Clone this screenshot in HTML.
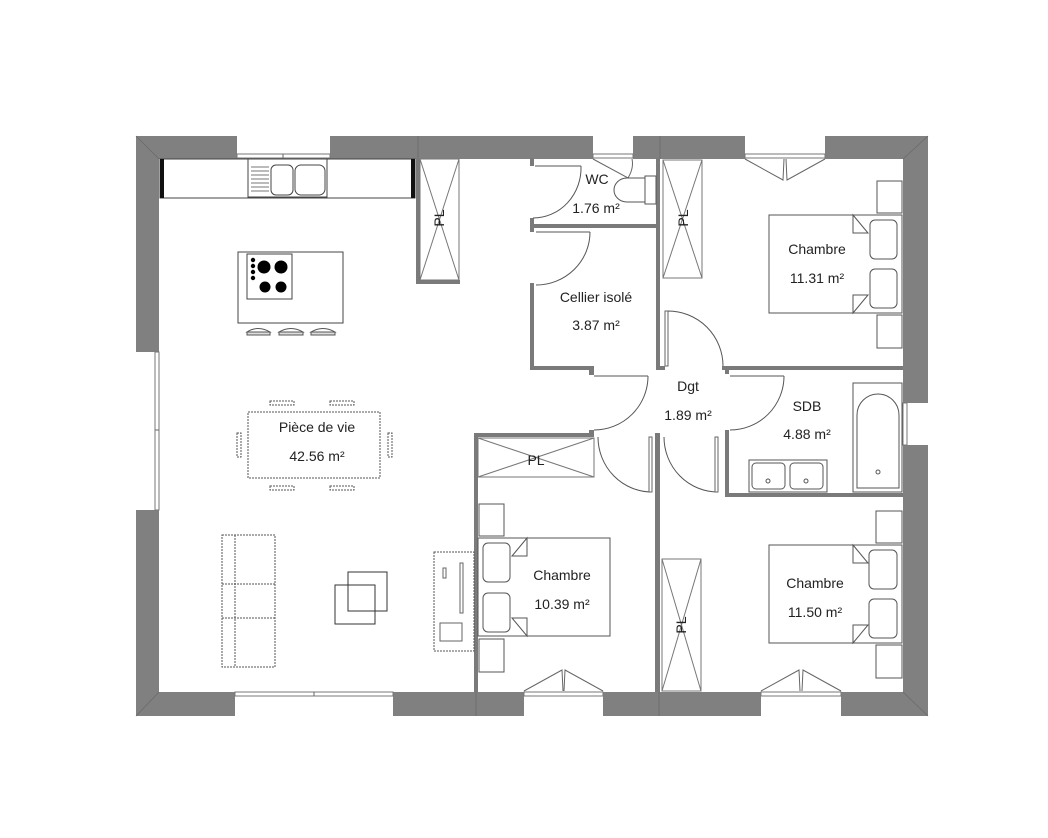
<!DOCTYPE html>
<html><head><meta charset="utf-8"><style>
html,body{margin:0;padding:0;background:#fff;}
svg{display:block;}
text{font-family:"Liberation Sans",sans-serif;font-size:14px;fill:#222;}
</style></head><body>
<svg width="1048" height="838" viewBox="0 0 1048 838" xmlns="http://www.w3.org/2000/svg">
<!-- exterior walls -->
<g fill="#808080">
<rect x="136" y="136" width="101" height="23"/>
<rect x="330" y="136" width="263" height="23"/>
<rect x="633" y="136" width="112" height="23"/>
<rect x="825" y="136" width="103" height="23"/>
<rect x="136" y="136" width="23" height="216"/>
<rect x="136" y="510" width="23" height="206"/>
<rect x="136" y="692" width="99" height="24"/>
<rect x="393" y="692" width="131" height="24"/>
<rect x="603" y="692" width="158" height="24"/>
<rect x="841" y="692" width="87" height="24"/>
<rect x="903" y="136" width="25" height="267"/>
<rect x="903" y="445" width="25" height="271"/>
</g>
<g stroke="#6a6a6a" stroke-width="0.8" fill="none">
<line x1="136" y1="136" x2="159" y2="159"/><line x1="928" y1="136" x2="903" y2="159"/>
<line x1="136" y1="716" x2="159" y2="692"/><line x1="928" y1="716" x2="903" y2="692"/>
<line x1="418" y1="136" x2="418" y2="159"/><line x1="660" y1="136" x2="660" y2="159"/>
<line x1="476" y1="692" x2="476" y2="716"/><line x1="659" y1="692" x2="659" y2="716"/>
</g>
<!-- windows -->
<g fill="#fff" stroke="#777" stroke-width="1">
<rect x="237" y="154" width="93" height="4"/>
<rect x="593" y="154" width="40" height="4"/>
<rect x="745" y="154" width="80" height="4"/>
<rect x="155" y="352" width="4" height="158"/>
<rect x="235" y="692" width="158" height="4"/>
<rect x="524" y="692" width="79" height="4"/>
<rect x="761" y="692" width="80" height="4"/>
<rect x="903" y="403" width="4" height="42"/>
</g>
<g stroke="#666" stroke-width="1" fill="none">
<line x1="283" y1="154" x2="283" y2="158"/><line x1="155" y1="430" x2="159" y2="430"/>
<line x1="314" y1="692" x2="314" y2="696"/>
<path d="M745 159 L783 180 L784 159 M825 159 L787 180 L786 159"/>
<path d="M524 691 L562 670 L563 691 M603 691 L565 670 L564 691"/>
<path d="M761 691 L799 670 L800 691 M841 691 L803 670 L802 691"/>
<path d="M593 159 L628 178 Q634 168 632 159"/>
<path d="M903 405 L885 440 L903 442"/>
</g>
<!-- interior walls -->
<g fill="#7a7a7a">
<rect x="416" y="158" width="4" height="126"/>
<rect x="416" y="280" width="44" height="4"/>
<rect x="530" y="158" width="4" height="8"/>
<rect x="530" y="218" width="4" height="14"/>
<rect x="530" y="224" width="130" height="4"/>
<rect x="530" y="283" width="4" height="87"/>
<rect x="530" y="366" width="62" height="4"/>
<rect x="656" y="158" width="4" height="212"/>
<rect x="656" y="366" width="9" height="4"/>
<rect x="722" y="366" width="181" height="4"/>
<rect x="725" y="366" width="4" height="8"/>
<rect x="725" y="430" width="4" height="67"/>
<rect x="725" y="493" width="178" height="4"/>
<rect x="474" y="433" width="119" height="4"/>
<rect x="589" y="366" width="5" height="9"/>
<rect x="589" y="430" width="5" height="7"/>
<rect x="474" y="433" width="4" height="259"/>
<rect x="655" y="433" width="5" height="259"/>
</g>
<!-- doors -->
<g stroke="#555" stroke-width="1" fill="none">
<path d="M535 166 L581 166 M581 166 A48 50 0 0 1 533 218"/>
<path d="M536 232 L590 232 M590 232 A54 53 0 0 1 536 285"/>
<path d="M594 376 L648 376 M648 376 A54 54 0 0 1 594 430"/>
<path d="M730 376 L784 376 M784 376 A54 54 0 0 1 730 430"/>
<path d="M668 366 L668 311 M668 311 A55 55 0 0 1 723 366"/>
<path d="M652 437 L652 492 M598 437 A54 55 0 0 0 652 492"/>
<path d="M718 437 L718 492 M664 437 A54 55 0 0 0 718 492"/>
</g>
<g stroke="#666" stroke-width="1" fill="#fff">
<rect x="649" y="437" width="3" height="55"/><rect x="715" y="437" width="3" height="55"/>
<rect x="665" y="311" width="3" height="55"/>
</g>
<!-- placards PL -->
<g stroke="#777" stroke-width="1" fill="none">
<rect x="420" y="159" width="39" height="121"/><path d="M420 159 L459 280 M459 159 L420 280"/>
<rect x="663" y="160" width="39" height="118"/><path d="M663 160 L702 278 M702 160 L663 278"/>
<rect x="478" y="438" width="116" height="39"/><path d="M478 438 L594 477 M594 438 L478 477"/>
<rect x="662" y="559" width="39" height="132"/><path d="M662 559 L701 691 M701 559 L662 691"/>
</g>
<text transform="translate(444,218) rotate(-90)" text-anchor="middle">PL</text>
<text transform="translate(688,218) rotate(-90)" text-anchor="middle">PL</text>
<text x="536" y="465" text-anchor="middle">PL</text>
<text transform="translate(686,625) rotate(-90)" text-anchor="middle">PL</text>
<!-- kitchen -->
<g stroke="#444" stroke-width="1" fill="#fff">
<rect x="160" y="159" width="255" height="39"/>
<rect x="248" y="159" width="79" height="38"/>
<rect x="271" y="165" width="22" height="30" rx="5"/>
<rect x="295" y="165" width="30" height="30" rx="6"/>
<rect x="238" y="252" width="105" height="71"/>
<rect x="247" y="254" width="45" height="45"/>
</g>
<rect x="160" y="159" width="4" height="39" fill="#111"/>
<rect x="411" y="159" width="4" height="39" fill="#111"/>
<g stroke="#777" stroke-width="1"><path d="M251 167H269M251 171H269M251 175H269M251 179H269M251 183H269M251 187H269M251 191H269"/></g>
<g fill="#000"><circle cx="264" cy="267" r="6.5"/><circle cx="281" cy="267" r="6.5"/><circle cx="265" cy="287" r="5.5"/><circle cx="281" cy="287" r="5.5"/>
<circle cx="253" cy="260" r="2.2"/><circle cx="253" cy="266" r="2.2"/><circle cx="253" cy="272" r="2.2"/><circle cx="253" cy="278" r="2.2"/></g>
<g stroke="#555" stroke-width="1" fill="#ddd">
<path d="M247 332 Q258 325 270 332 Z" fill="none"/><rect x="247" y="332" width="23" height="3"/>
<path d="M279 332 Q291 325 303 332 Z" fill="none"/><rect x="279" y="332" width="24" height="3"/>
<path d="M311 332 Q323 325 335 332 Z" fill="none"/><rect x="311" y="332" width="24" height="3"/>
</g>
<!-- living -->
<g stroke="#555" stroke-width="1" fill="none" stroke-dasharray="2,1">
<rect x="248" y="412" width="132" height="66"/>
<rect x="270" y="401" width="24" height="4"/><rect x="330" y="401" width="24" height="4"/>
<rect x="270" y="486" width="24" height="4"/><rect x="330" y="486" width="24" height="4"/>
<rect x="237" y="433" width="4" height="24"/><rect x="388" y="433" width="4" height="24"/>
<rect x="222" y="535" width="53" height="132"/>
<line x1="235" y1="535" x2="235" y2="667"/>
<line x1="222" y1="584" x2="275" y2="584"/><line x1="222" y1="618" x2="275" y2="618"/>
<rect x="434" y="552" width="40" height="99"/>
</g>
<g stroke="#333" stroke-width="1" fill="none">
<rect x="335" y="585" width="40" height="39"/>
<rect x="348" y="572" width="39" height="39"/>
</g>
<g stroke="#666" stroke-width="1" fill="none">
<rect x="443" y="568" width="3" height="10"/><rect x="460" y="563" width="3" height="50"/>
<rect x="440" y="623" width="22" height="18"/>
</g>
<!-- WC -->
<g stroke="#555" stroke-width="1" fill="#fff">
<path d="M627 178 L645 178 L645 202 L627 202 A13 12 0 0 1 627 178 Z"/>
<rect x="645" y="176" width="11" height="28"/>
</g>
<!-- SDB -->
<g stroke="#555" stroke-width="1" fill="#fff">
<rect x="853" y="383" width="49" height="109"/>
<path d="M857 488 V415 A21 21 0 0 1 899 415 V488 Z"/>
<rect x="749" y="460" width="78" height="32"/>
<rect x="752" y="463" width="33" height="26" rx="4"/><rect x="790" y="463" width="33" height="26" rx="4"/>
<circle cx="768" cy="481" r="2"/><circle cx="806" cy="481" r="2"/><circle cx="878" cy="472" r="2"/>
</g>
<!-- beds -->
<g stroke="#555" stroke-width="1" fill="#fff">
<rect x="769" y="215" width="133" height="98"/>
<rect x="877" y="181" width="25" height="32"/><rect x="877" y="315" width="25" height="33"/>
<rect x="870" y="220" width="27" height="39" rx="5"/><rect x="870" y="269" width="27" height="39" rx="5"/>
<path d="M853 215 L868 233 L853 233 Z M853 313 L868 295 L853 295 Z"/>
<rect x="478" y="538" width="132" height="98"/>
<rect x="479" y="504" width="25" height="32"/><rect x="479" y="639" width="25" height="33"/>
<rect x="483" y="543" width="27" height="39" rx="5"/><rect x="483" y="593" width="27" height="39" rx="5"/>
<path d="M527 538 L512 556 L527 556 Z M527 636 L512 618 L527 618 Z"/>
<rect x="769" y="545" width="133" height="98"/>
<rect x="876" y="511" width="26" height="32"/><rect x="876" y="645" width="26" height="33"/>
<rect x="869" y="550" width="28" height="39" rx="5"/><rect x="869" y="599" width="28" height="39" rx="5"/>
<path d="M853 545 L868 563 L853 563 Z M853 643 L868 625 L853 625 Z"/>
</g>
<!-- labels -->
<g text-anchor="middle">
<text x="597" y="184">WC</text><text x="596" y="213">1.76 m²</text>
<text x="596" y="302">Cellier isolé</text><text x="596" y="330">3.87 m²</text>
<text x="817" y="254">Chambre</text><text x="817" y="283">11.31 m²</text>
<text x="688" y="391">Dgt</text><text x="688" y="420">1.89 m²</text>
<text x="807" y="411">SDB</text><text x="807" y="439">4.88 m²</text>
<text x="317" y="432">Pièce de vie</text><text x="317" y="461">42.56 m²</text>
<text x="562" y="580">Chambre</text><text x="562" y="609">10.39 m²</text>
<text x="815" y="588">Chambre</text><text x="815" y="617">11.50 m²</text>
</g>
</svg>
</body></html>
